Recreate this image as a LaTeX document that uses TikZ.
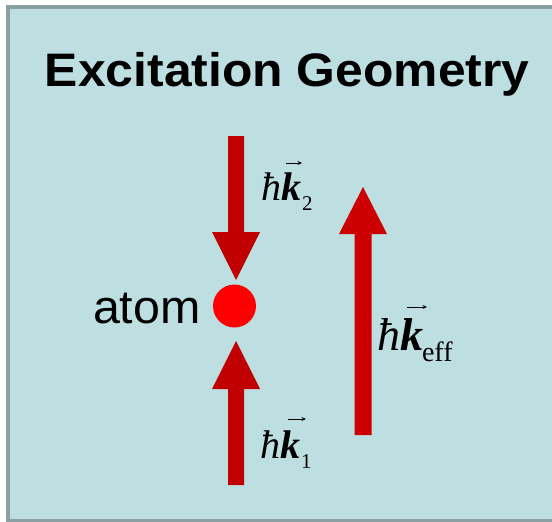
\documentclass[tikz,border=0pt]{standalone}
\usepackage{fontspec}
\usepackage{graphicx}
\setmainfont{Liberation Serif}
\newfontfamily\lsans{Liberation Sans}
\usetikzlibrary{arrows.meta}
\definecolor{bgc}{RGB}{190,223,226}
\definecolor{bdc}{RGB}{138,160,162}
\definecolor{arrc}{RGB}{192,0,0}
\definecolor{arre}{RGB}{204,0,0}
\definecolor{dotc}{RGB}{255,0,0}
\begin{document}
\begin{tikzpicture}[x=1pt,y=-1pt,
  lbl/.style={anchor=base west,inner sep=0pt,outer sep=0pt},
  vecarrow/.style={line width=0.9pt,-{Stealth[length=4.5pt,width=4pt]}},
  mainlbl/.style={lbl,font=\fontsize{40}{40}\selectfont\itshape},
  sublbl/.style={lbl,font=\fontsize{21}{21}\selectfont}]
\useasboundingbox (0,0) rectangle (552,522);
\clip (0,0) rectangle (552,522);
\fill[white] (0,0) rectangle (552,522);
\draw[bdc,line width=4pt,fill=bgc] (8,7) rectangle (560,521);
% title
\node[lbl] (title) at (45,86) {\scalebox{1.06}[1]{\lsans\bfseries\fontsize{47}{47}\selectfont Excitation Geometry}};
% arrows
\fill[arrc] (228,136) -- (244,136) -- (244,232) -- (260,232) -- (236,280) -- (212,232) -- (228,232) -- cycle;
\fill[arrc] (236,341) -- (260,389) -- (244,389) -- (244,485) -- (228,485) -- (228,389) -- (212,389) -- cycle;
\fill[arre] (363,187) -- (387,234) -- (371.5,234) -- (371.5,435) -- (354.5,435) -- (354.5,234) -- (339,234) -- cycle;
% atom
\node[circle,fill=dotc,minimum size=43pt,inner sep=0pt] (atomdot) at (234.5,306) {};
\node[lbl] (atomlbl) at (93,323) {\scalebox{1.03}[1]{\lsans\fontsize{47}{47}\selectfont atom}};
% labels
\node[mainlbl] (k2) at (261,200) {ħ\textbf{k}};
\node[sublbl] (k2s) at ([xshift=1pt,yshift=-10.5pt]k2.base east) {2};
\draw[vecarrow] (286,163) -- (302,163);
\node[mainlbl] (k1) at (260,458) {ħ\textbf{k}};
\node[sublbl] (k1s) at ([xshift=1pt,yshift=-10pt]k1.base east) {1};
\draw[vecarrow] (288,419) -- (306,419);
\node[lbl,font=\fontsize{46}{46}\selectfont\itshape] (ke) at (377,350) {ħ\textbf{k}};
\node[lbl,font=\fontsize{28}{28}\selectfont] (kes) at ([xshift=-1pt,yshift=-11pt]ke.base east) {eff};
\draw[vecarrow] (407,307) -- (427,307);
\end{tikzpicture}
\end{document}
